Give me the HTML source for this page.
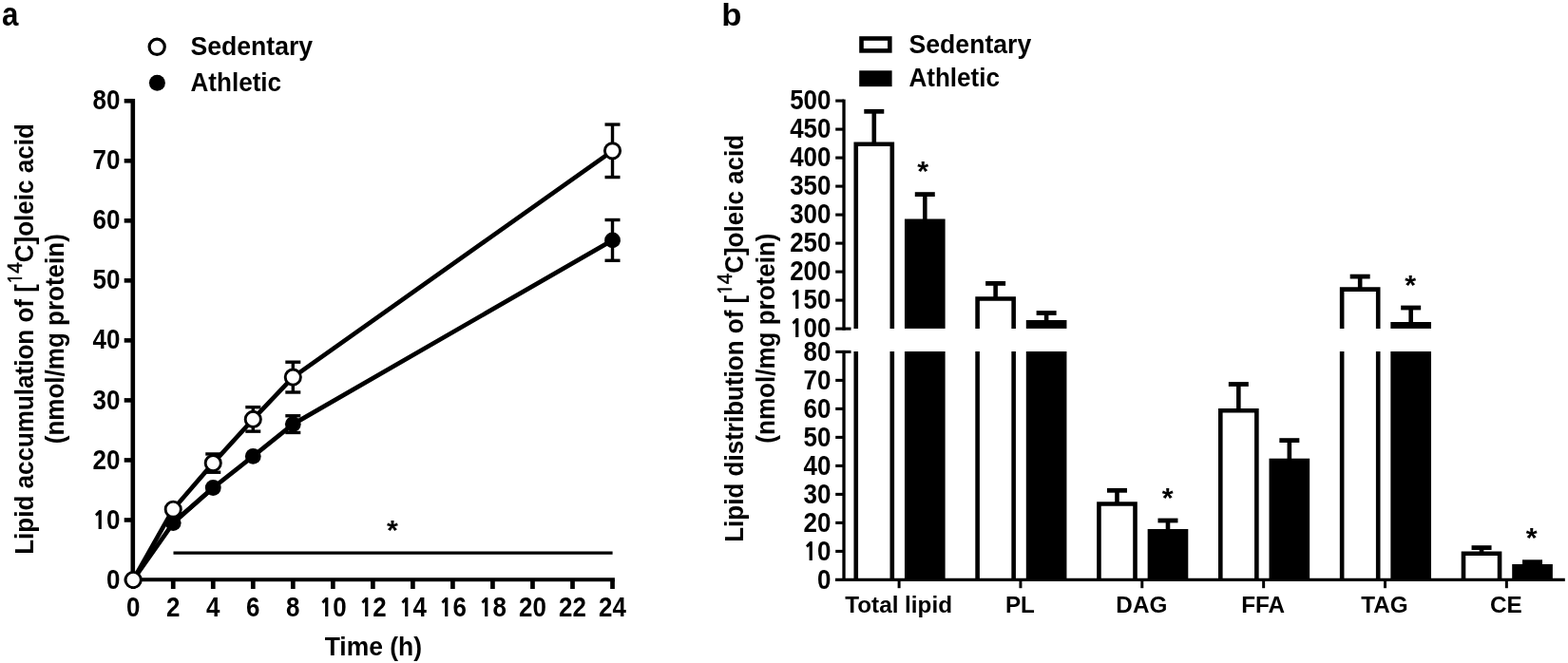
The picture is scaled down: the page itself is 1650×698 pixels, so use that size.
<!DOCTYPE html>
<html><head><meta charset="utf-8"><title>Lipid accumulation and distribution</title>
<style>
html,body{margin:0;padding:0;background:#fff;}
body{width:1650px;height:698px;overflow:hidden;}
svg{display:block;}
text{font-family:"Liberation Sans", Arial, Helvetica, sans-serif;fill:#000;}
.tk{font-size:26.6px;font-weight:bold;}
.cat{font-size:24.5px;font-weight:bold;}
.yl{font-size:27px;font-weight:bold;}
.sup{font-size:21.5px;font-weight:normal;stroke:#000;stroke-width:0.55px;}
.pl{font-size:34px;font-weight:bold;}
.one{font-family:NanumGothic,"Liberation Sans",sans-serif;font-weight:800;font-size:24.5px;}
.sone{font-family:NanumGothic,"Liberation Sans",sans-serif;font-weight:normal;font-size:19.5px;}
.ast{font-size:30.5px;font-weight:bold;}
</style></head>
<body>
<svg width="1650" height="698" viewBox="0 0 1650 698">
<rect width="1650" height="698" fill="#fff"/>
<line x1="139.8" y1="103.96" x2="139.8" y2="612.2" stroke="#000" stroke-width="4.6"/>
<line x1="130.7" y1="610.50" x2="139.8" y2="610.50" stroke="#000" stroke-width="4.6"/>
<text transform="translate(126.40,619.60) scale(0.975,1.08)" text-anchor="end" class="tk">0</text>
<line x1="130.7" y1="547.47" x2="139.8" y2="547.47" stroke="#000" stroke-width="4.6"/>
<text transform="translate(126.40,556.57) scale(0.975,1.08)" text-anchor="end" class="tk"><tspan class="one">1</tspan>0</text>
<line x1="130.7" y1="484.44" x2="139.8" y2="484.44" stroke="#000" stroke-width="4.6"/>
<text transform="translate(126.40,493.54) scale(0.975,1.08)" text-anchor="end" class="tk">20</text>
<line x1="130.7" y1="421.41" x2="139.8" y2="421.41" stroke="#000" stroke-width="4.6"/>
<text transform="translate(126.40,430.51) scale(0.975,1.08)" text-anchor="end" class="tk">30</text>
<line x1="130.7" y1="358.38" x2="139.8" y2="358.38" stroke="#000" stroke-width="4.6"/>
<text transform="translate(126.40,367.48) scale(0.975,1.08)" text-anchor="end" class="tk">40</text>
<line x1="130.7" y1="295.35" x2="139.8" y2="295.35" stroke="#000" stroke-width="4.6"/>
<text transform="translate(126.40,304.45) scale(0.975,1.08)" text-anchor="end" class="tk">50</text>
<line x1="130.7" y1="232.32" x2="139.8" y2="232.32" stroke="#000" stroke-width="4.6"/>
<text transform="translate(126.40,241.42) scale(0.975,1.08)" text-anchor="end" class="tk">60</text>
<line x1="130.7" y1="169.29" x2="139.8" y2="169.29" stroke="#000" stroke-width="4.6"/>
<text transform="translate(126.40,178.39) scale(0.975,1.08)" text-anchor="end" class="tk">70</text>
<line x1="130.7" y1="106.26" x2="139.8" y2="106.26" stroke="#000" stroke-width="4.6"/>
<text transform="translate(126.40,115.36) scale(0.975,1.08)" text-anchor="end" class="tk">80</text>
<line x1="137.5" y1="610.25" x2="646.9119999999999" y2="610.25" stroke="#000" stroke-width="4.0"/>
<line x1="140.20" y1="610.5" x2="140.20" y2="620.0" stroke="#000" stroke-width="4.7"/>
<text transform="translate(140.20,648.70) scale(0.975,1.08)" text-anchor="middle" class="tk">0</text>
<line x1="182.23" y1="610.5" x2="182.23" y2="620.0" stroke="#000" stroke-width="4.7"/>
<text transform="translate(182.23,648.70) scale(0.975,1.08)" text-anchor="middle" class="tk">2</text>
<line x1="224.25" y1="610.5" x2="224.25" y2="620.0" stroke="#000" stroke-width="4.7"/>
<text transform="translate(224.25,648.70) scale(0.975,1.08)" text-anchor="middle" class="tk">4</text>
<line x1="266.28" y1="610.5" x2="266.28" y2="620.0" stroke="#000" stroke-width="4.7"/>
<text transform="translate(266.28,648.70) scale(0.975,1.08)" text-anchor="middle" class="tk">6</text>
<line x1="308.30" y1="610.5" x2="308.30" y2="620.0" stroke="#000" stroke-width="4.7"/>
<text transform="translate(308.30,648.70) scale(0.975,1.08)" text-anchor="middle" class="tk">8</text>
<line x1="350.33" y1="610.5" x2="350.33" y2="620.0" stroke="#000" stroke-width="4.7"/>
<text transform="translate(350.33,648.70) scale(0.975,1.08)" text-anchor="middle" class="tk"><tspan class="one">1</tspan>0</text>
<line x1="392.36" y1="610.5" x2="392.36" y2="620.0" stroke="#000" stroke-width="4.7"/>
<text transform="translate(392.36,648.70) scale(0.975,1.08)" text-anchor="middle" class="tk"><tspan class="one">1</tspan>2</text>
<line x1="434.38" y1="610.5" x2="434.38" y2="620.0" stroke="#000" stroke-width="4.7"/>
<text transform="translate(434.38,648.70) scale(0.975,1.08)" text-anchor="middle" class="tk"><tspan class="one">1</tspan>4</text>
<line x1="476.41" y1="610.5" x2="476.41" y2="620.0" stroke="#000" stroke-width="4.7"/>
<text transform="translate(476.41,648.70) scale(0.975,1.08)" text-anchor="middle" class="tk"><tspan class="one">1</tspan>6</text>
<line x1="518.43" y1="610.5" x2="518.43" y2="620.0" stroke="#000" stroke-width="4.7"/>
<text transform="translate(518.43,648.70) scale(0.975,1.08)" text-anchor="middle" class="tk"><tspan class="one">1</tspan>8</text>
<line x1="560.46" y1="610.5" x2="560.46" y2="620.0" stroke="#000" stroke-width="4.7"/>
<text transform="translate(560.46,648.70) scale(0.975,1.08)" text-anchor="middle" class="tk">20</text>
<line x1="602.49" y1="610.5" x2="602.49" y2="620.0" stroke="#000" stroke-width="4.7"/>
<text transform="translate(602.49,648.70) scale(0.975,1.08)" text-anchor="middle" class="tk">22</text>
<line x1="644.51" y1="610.5" x2="644.51" y2="620.0" stroke="#000" stroke-width="4.7"/>
<text transform="translate(644.51,648.70) scale(0.975,1.08)" text-anchor="middle" class="tk">24</text>
<text transform="translate(392.86,689.60) scale(0.995,1.02)" text-anchor="middle" class="tk">Time (h)</text>
<line x1="182.5" y1="582.1" x2="644.6" y2="582.1" stroke="#000" stroke-width="3.4"/>
<text transform="translate(412.90,568.40) scale(1.0,0.96)" text-anchor="middle" class="ast">*</text>
<polyline points="140.20,610.50 182.23,550.60 224.25,513.50 266.28,480.40 308.30,446.60 644.51,252.90" fill="none" stroke="#000" stroke-width="4.7" stroke-linejoin="round"/>
<line x1="308.30" y1="437.75" x2="308.30" y2="455.45" stroke="#000" stroke-width="3.4"/>
<line x1="300.30" y1="437.75" x2="316.30" y2="437.75" stroke="#000" stroke-width="3.4"/>
<line x1="300.30" y1="455.45" x2="316.30" y2="455.45" stroke="#000" stroke-width="3.4"/>
<line x1="644.51" y1="231.50" x2="644.51" y2="274.30" stroke="#000" stroke-width="3.4"/>
<line x1="636.51" y1="231.50" x2="652.51" y2="231.50" stroke="#000" stroke-width="3.4"/>
<line x1="636.51" y1="274.30" x2="652.51" y2="274.30" stroke="#000" stroke-width="3.4"/>
<circle cx="140.20" cy="610.50" r="8.4" fill="#000"/>
<circle cx="182.23" cy="550.60" r="8.4" fill="#000"/>
<circle cx="224.25" cy="513.50" r="8.4" fill="#000"/>
<circle cx="266.28" cy="480.40" r="8.4" fill="#000"/>
<circle cx="308.30" cy="446.60" r="8.4" fill="#000"/>
<circle cx="644.51" cy="252.90" r="8.4" fill="#000"/>
<polyline points="140.20,610.50 182.23,536.20 224.25,487.60 266.28,441.40 308.30,397.10 644.51,158.80" fill="none" stroke="#000" stroke-width="4.7" stroke-linejoin="round"/>
<line x1="224.25" y1="477.95" x2="224.25" y2="497.25" stroke="#000" stroke-width="3.4"/>
<line x1="216.25" y1="477.95" x2="232.25" y2="477.95" stroke="#000" stroke-width="3.4"/>
<line x1="216.25" y1="497.25" x2="232.25" y2="497.25" stroke="#000" stroke-width="3.4"/>
<line x1="266.28" y1="428.65" x2="266.28" y2="454.15" stroke="#000" stroke-width="3.4"/>
<line x1="258.28" y1="428.65" x2="274.28" y2="428.65" stroke="#000" stroke-width="3.4"/>
<line x1="258.28" y1="454.15" x2="274.28" y2="454.15" stroke="#000" stroke-width="3.4"/>
<line x1="308.30" y1="381.20" x2="308.30" y2="413.00" stroke="#000" stroke-width="3.4"/>
<line x1="300.30" y1="381.20" x2="316.30" y2="381.20" stroke="#000" stroke-width="3.4"/>
<line x1="300.30" y1="413.00" x2="316.30" y2="413.00" stroke="#000" stroke-width="3.4"/>
<line x1="644.51" y1="131.05" x2="644.51" y2="186.55" stroke="#000" stroke-width="3.4"/>
<line x1="636.51" y1="131.05" x2="652.51" y2="131.05" stroke="#000" stroke-width="3.4"/>
<line x1="636.51" y1="186.55" x2="652.51" y2="186.55" stroke="#000" stroke-width="3.4"/>
<circle cx="140.20" cy="610.50" r="8.1" fill="#fff" stroke="#000" stroke-width="2.9"/>
<circle cx="182.23" cy="536.20" r="8.1" fill="#fff" stroke="#000" stroke-width="2.9"/>
<circle cx="224.25" cy="487.60" r="8.1" fill="#fff" stroke="#000" stroke-width="2.9"/>
<circle cx="266.28" cy="441.40" r="8.1" fill="#fff" stroke="#000" stroke-width="2.9"/>
<circle cx="308.30" cy="397.10" r="8.1" fill="#fff" stroke="#000" stroke-width="2.9"/>
<circle cx="644.51" cy="158.80" r="8.1" fill="#fff" stroke="#000" stroke-width="2.9"/>
<line x1="182.23" y1="550.60" x2="224.25" y2="513.50" stroke="#000" stroke-width="4.7"/>
<circle cx="165.2" cy="49.3" r="8.1" fill="#fff" stroke="#000" stroke-width="3.2"/>
<circle cx="165.4" cy="87.2" r="8.5" fill="#000"/>
<text transform="translate(200.50,57.80) scale(1.0,1.04)" class="tk">Sedentary</text>
<text transform="translate(200.50,95.60) scale(0.98,1.04)" class="tk">Athletic</text>
<text transform="translate(1.90,26.60) scale(0.92,1.025)" class="pl">a</text>
<text transform="translate(35,357) rotate(-90) scale(0.964,1)" text-anchor="middle" class="yl">Lipid accumulation of [<tspan class="sup" dy="-12.5"><tspan class="sone">1</tspan>4</tspan><tspan dy="12.5">C]oleic acid</tspan></text>
<text transform="translate(67,356.7) rotate(-90) scale(0.964,1)" text-anchor="middle" class="yl">(nmol/mg protein)</text>
<line x1="888.0" y1="104.60000000000002" x2="888.0" y2="347.6" stroke="#000" stroke-width="3.3"/>
<line x1="879.2" y1="346.10" x2="895.5" y2="346.10" stroke="#000" stroke-width="3.1"/>
<text transform="translate(874.40,355.40) scale(0.975,1.08)" text-anchor="end" class="tk"><tspan class="one">1</tspan>00</text>
<line x1="879.2" y1="316.10" x2="888.0" y2="316.10" stroke="#000" stroke-width="3.1"/>
<text transform="translate(874.40,325.40) scale(0.975,1.08)" text-anchor="end" class="tk"><tspan class="one">1</tspan>50</text>
<line x1="879.2" y1="286.10" x2="888.0" y2="286.10" stroke="#000" stroke-width="3.1"/>
<text transform="translate(874.40,295.40) scale(0.975,1.08)" text-anchor="end" class="tk">200</text>
<line x1="879.2" y1="256.10" x2="888.0" y2="256.10" stroke="#000" stroke-width="3.1"/>
<text transform="translate(874.40,265.40) scale(0.975,1.08)" text-anchor="end" class="tk">250</text>
<line x1="879.2" y1="226.10" x2="888.0" y2="226.10" stroke="#000" stroke-width="3.1"/>
<text transform="translate(874.40,235.40) scale(0.975,1.08)" text-anchor="end" class="tk">300</text>
<line x1="879.2" y1="196.10" x2="888.0" y2="196.10" stroke="#000" stroke-width="3.1"/>
<text transform="translate(874.40,205.40) scale(0.975,1.08)" text-anchor="end" class="tk">350</text>
<line x1="879.2" y1="166.10" x2="888.0" y2="166.10" stroke="#000" stroke-width="3.1"/>
<text transform="translate(874.40,175.40) scale(0.975,1.08)" text-anchor="end" class="tk">400</text>
<line x1="879.2" y1="136.10" x2="888.0" y2="136.10" stroke="#000" stroke-width="3.1"/>
<text transform="translate(874.40,145.40) scale(0.975,1.08)" text-anchor="end" class="tk">450</text>
<line x1="879.2" y1="106.10" x2="888.0" y2="106.10" stroke="#000" stroke-width="3.1"/>
<text transform="translate(874.40,115.40) scale(0.975,1.08)" text-anchor="end" class="tk">500</text>
<line x1="888.0" y1="368.9" x2="888.0" y2="610.4" stroke="#000" stroke-width="3.3"/>
<text transform="translate(874.40,619.70) scale(0.975,1.08)" text-anchor="end" class="tk">0</text>
<line x1="879.2" y1="580.40" x2="888.0" y2="580.40" stroke="#000" stroke-width="3.1"/>
<text transform="translate(874.40,589.70) scale(0.975,1.08)" text-anchor="end" class="tk"><tspan class="one">1</tspan>0</text>
<line x1="879.2" y1="550.40" x2="888.0" y2="550.40" stroke="#000" stroke-width="3.1"/>
<text transform="translate(874.40,559.70) scale(0.975,1.08)" text-anchor="end" class="tk">20</text>
<line x1="879.2" y1="520.40" x2="888.0" y2="520.40" stroke="#000" stroke-width="3.1"/>
<text transform="translate(874.40,529.70) scale(0.975,1.08)" text-anchor="end" class="tk">30</text>
<line x1="879.2" y1="490.40" x2="888.0" y2="490.40" stroke="#000" stroke-width="3.1"/>
<text transform="translate(874.40,499.70) scale(0.975,1.08)" text-anchor="end" class="tk">40</text>
<line x1="879.2" y1="460.40" x2="888.0" y2="460.40" stroke="#000" stroke-width="3.1"/>
<text transform="translate(874.40,469.70) scale(0.975,1.08)" text-anchor="end" class="tk">50</text>
<line x1="879.2" y1="430.40" x2="888.0" y2="430.40" stroke="#000" stroke-width="3.1"/>
<text transform="translate(874.40,439.70) scale(0.975,1.08)" text-anchor="end" class="tk">60</text>
<line x1="879.2" y1="400.40" x2="888.0" y2="400.40" stroke="#000" stroke-width="3.1"/>
<text transform="translate(874.40,409.70) scale(0.975,1.08)" text-anchor="end" class="tk">70</text>
<line x1="879.2" y1="370.40" x2="895.5" y2="370.40" stroke="#000" stroke-width="3.1"/>
<text transform="translate(874.40,379.70) scale(0.975,1.08)" text-anchor="end" class="tk">80</text>
<line x1="919.78" y1="117.30" x2="919.78" y2="151.50" stroke="#000" stroke-width="4.6"/>
<line x1="909.28" y1="117.30" x2="930.28" y2="117.30" stroke="#000" stroke-width="4.8"/>
<line x1="973.28" y1="204.60" x2="973.28" y2="232.50" stroke="#000" stroke-width="4.6"/>
<line x1="962.78" y1="204.60" x2="983.78" y2="204.60" stroke="#000" stroke-width="4.8"/>
<path d="M900.75,345.90 V151.80 H938.80 V345.90" fill="#fff" stroke="#000" stroke-width="4.6"/>
<path d="M900.75,370.00 V610.40 M938.80,370.00 V610.40" fill="none" stroke="#000" stroke-width="4.6"/>
<rect x="951.95" y="230.50" width="42.65" height="115.40" fill="#000"/>
<rect x="951.95" y="370.00" width="42.65" height="240.40" fill="#000"/>
<line x1="1047.62" y1="298.40" x2="1047.62" y2="314.20" stroke="#000" stroke-width="4.6"/>
<line x1="1037.12" y1="298.40" x2="1058.12" y2="298.40" stroke="#000" stroke-width="4.8"/>
<line x1="1101.12" y1="329.50" x2="1101.12" y2="339.00" stroke="#000" stroke-width="4.6"/>
<line x1="1090.62" y1="329.50" x2="1111.62" y2="329.50" stroke="#000" stroke-width="4.8"/>
<path d="M1028.60,345.90 V314.50 H1066.65 V345.90" fill="#fff" stroke="#000" stroke-width="4.6"/>
<path d="M1028.60,370.00 V610.40 M1066.65,370.00 V610.40" fill="none" stroke="#000" stroke-width="4.6"/>
<rect x="1079.80" y="337.00" width="42.65" height="8.90" fill="#000"/>
<rect x="1079.80" y="370.00" width="42.65" height="240.40" fill="#000"/>
<line x1="1175.48" y1="516.30" x2="1175.48" y2="530.20" stroke="#000" stroke-width="4.6"/>
<line x1="1164.98" y1="516.30" x2="1185.98" y2="516.30" stroke="#000" stroke-width="4.8"/>
<line x1="1228.98" y1="548.00" x2="1228.98" y2="559.00" stroke="#000" stroke-width="4.6"/>
<line x1="1218.48" y1="548.00" x2="1239.48" y2="548.00" stroke="#000" stroke-width="4.8"/>
<path d="M1156.45,610.40 V530.50 H1194.50 V610.40" fill="#fff" stroke="#000" stroke-width="4.6"/>
<rect x="1207.65" y="557.00" width="42.65" height="53.40" fill="#000"/>
<line x1="1303.33" y1="404.50" x2="1303.33" y2="431.90" stroke="#000" stroke-width="4.6"/>
<line x1="1292.83" y1="404.50" x2="1313.83" y2="404.50" stroke="#000" stroke-width="4.8"/>
<line x1="1356.83" y1="463.60" x2="1356.83" y2="484.70" stroke="#000" stroke-width="4.6"/>
<line x1="1346.33" y1="463.60" x2="1367.33" y2="463.60" stroke="#000" stroke-width="4.8"/>
<path d="M1284.30,610.40 V432.20 H1322.35 V610.40" fill="#fff" stroke="#000" stroke-width="4.6"/>
<rect x="1335.50" y="482.70" width="42.65" height="127.70" fill="#000"/>
<line x1="1431.17" y1="291.10" x2="1431.17" y2="304.30" stroke="#000" stroke-width="4.6"/>
<line x1="1420.67" y1="291.10" x2="1441.67" y2="291.10" stroke="#000" stroke-width="4.8"/>
<line x1="1484.67" y1="324.00" x2="1484.67" y2="341.00" stroke="#000" stroke-width="4.6"/>
<line x1="1474.17" y1="324.00" x2="1495.17" y2="324.00" stroke="#000" stroke-width="4.8"/>
<path d="M1412.15,345.90 V304.60 H1450.20 V345.90" fill="#fff" stroke="#000" stroke-width="4.6"/>
<path d="M1412.15,370.00 V610.40 M1450.20,370.00 V610.40" fill="none" stroke="#000" stroke-width="4.6"/>
<rect x="1463.35" y="339.00" width="42.65" height="6.90" fill="#000"/>
<rect x="1463.35" y="370.00" width="42.65" height="240.40" fill="#000"/>
<line x1="1559.03" y1="576.60" x2="1559.03" y2="582.50" stroke="#000" stroke-width="4.6"/>
<line x1="1548.53" y1="576.60" x2="1569.53" y2="576.60" stroke="#000" stroke-width="4.8"/>
<line x1="1612.53" y1="591.70" x2="1612.53" y2="596.00" stroke="#000" stroke-width="4.6"/>
<line x1="1602.03" y1="591.70" x2="1623.03" y2="591.70" stroke="#000" stroke-width="4.8"/>
<path d="M1540.00,610.40 V582.80 H1578.05 V610.40" fill="#fff" stroke="#000" stroke-width="4.6"/>
<rect x="1591.20" y="594.00" width="42.65" height="16.40" fill="#000"/>
<line x1="879.0" y1="610.40" x2="1646.8" y2="610.40" stroke="#000" stroke-width="3.4"/>
<line x1="946.10" y1="610.40" x2="946.10" y2="619.2" stroke="#000" stroke-width="3.0"/>
<text transform="translate(945.60,644.70) scale(0.99,0.99)" text-anchor="middle" class="cat">Total lipid</text>
<line x1="1073.95" y1="610.40" x2="1073.95" y2="619.2" stroke="#000" stroke-width="3.0"/>
<text transform="translate(1073.45,644.70) scale(0.99,0.99)" text-anchor="middle" class="cat">PL</text>
<line x1="1201.80" y1="610.40" x2="1201.80" y2="619.2" stroke="#000" stroke-width="3.0"/>
<text transform="translate(1201.30,644.70) scale(0.99,0.99)" text-anchor="middle" class="cat">DAG</text>
<line x1="1329.65" y1="610.40" x2="1329.65" y2="619.2" stroke="#000" stroke-width="3.0"/>
<text transform="translate(1329.15,644.70) scale(0.99,0.99)" text-anchor="middle" class="cat">FFA</text>
<line x1="1457.50" y1="610.40" x2="1457.50" y2="619.2" stroke="#000" stroke-width="3.0"/>
<text transform="translate(1457.00,644.70) scale(0.99,0.99)" text-anchor="middle" class="cat">TAG</text>
<line x1="1585.35" y1="610.40" x2="1585.35" y2="619.2" stroke="#000" stroke-width="3.0"/>
<text transform="translate(1584.85,644.70) scale(0.99,0.99)" text-anchor="middle" class="cat">CE</text>
<text transform="translate(971.30,190.30) scale(1.0,0.96)" text-anchor="middle" class="ast">*</text>
<text transform="translate(1228.80,533.60) scale(1.0,0.96)" text-anchor="middle" class="ast">*</text>
<text transform="translate(1484.30,309.70) scale(1.0,0.96)" text-anchor="middle" class="ast">*</text>
<text transform="translate(1611.60,575.90) scale(1.0,0.96)" text-anchor="middle" class="ast">*</text>
<rect x="906.5" y="40.5" width="29.8" height="12.9" fill="#fff" stroke="#000" stroke-width="4.6"/>
<rect x="904.2" y="74.3" width="34.4" height="16.8" fill="#000"/>
<text transform="translate(956.60,55.80) scale(1.0,1.04)" class="tk">Sedentary</text>
<text transform="translate(956.40,90.80) scale(0.98,1.04)" class="tk">Athletic</text>
<text transform="translate(759.30,26.60) scale(1.02,1.0)" class="pl">b</text>
<text transform="translate(782.2,356.3) rotate(-90) scale(0.964,1)" text-anchor="middle" class="yl">Lipid distribution of [<tspan class="sup" dy="-12.5"><tspan class="sone">1</tspan>4</tspan><tspan dy="12.5">C]oleic acid</tspan></text>
<text transform="translate(814.8,356.1) rotate(-90) scale(0.964,1)" text-anchor="middle" class="yl">(nmol/mg protein)</text>
</svg>
</body></html>
